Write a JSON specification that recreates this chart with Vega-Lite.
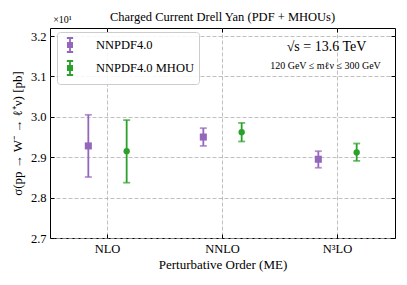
{
  "$schema": "https://vega.github.io/schema/vega-lite/v6.json",
  "autosize": "none",
  "width": 345,
  "height": 210,
  "padding": {"left": 50, "top": 28, "right": 12, "bottom": 47},
  "background": "white",
  "title": {"text": "Charged Current Drell Yan (PDF + MHOUs)", "font": "Liberation Serif", "fontSize": 12.5, "fontWeight": "normal", "color": "black", "offset": -9},
  "data": {"values": [
    {"order": "NLO", "series": "NNPDF4.0", "c": 2.928, "lo": 2.851, "hi": 3.005},
    {"order": "NLO", "series": "NNPDF4.0 MHOU", "c": 2.915, "lo": 2.837, "hi": 2.992},
    {"order": "NNLO", "series": "NNPDF4.0", "c": 2.950, "lo": 2.928, "hi": 2.972},
    {"order": "NNLO", "series": "NNPDF4.0 MHOU", "c": 2.962, "lo": 2.939, "hi": 2.985},
    {"order": "N³LO", "series": "NNPDF4.0", "c": 2.895, "lo": 2.874, "hi": 2.915},
    {"order": "N³LO", "series": "NNPDF4.0 MHOU", "c": 2.912, "lo": 2.891, "hi": 2.934}
  ]},
  "config": {
    "view": {"stroke": "black", "strokeWidth": 1},
    "font": "Liberation Serif",
    "axis": {"domainColor": "black", "tickColor": "black", "labelColor": "black", "titleColor": "black", "labelFont": "Liberation Serif", "titleFont": "Liberation Serif", "labelFontSize": 12.5, "titleFontSize": 13, "titleFontWeight": "normal", "gridColor": "#b0b0b0", "gridDash": [4, 2], "gridWidth": 0.8, "tickSize": -4, "tickWidth": 1}
  },
  "resolve": {"axis": {"x": "independent", "y": "independent"}},
  "encoding": {
    "x": {"field": "order", "type": "nominal", "sort": ["NLO", "NNLO", "N³LO"], "scale": {"type": "band", "paddingInner": 0, "paddingOuter": 0}},
    "xOffset": {"field": "series", "type": "nominal", "scale": {"type": "point", "padding": 2}},
    "color": {"field": "series", "type": "nominal", "scale": {"domain": ["NNPDF4.0", "NNPDF4.0 MHOU"], "range": ["#9467bd", "#2ca02c"]}, "legend": {
          "title": null, "orient": "none", "legendX": 7, "legendY": 4,
          "fillColor": "rgba(255,255,255,0.85)", "strokeColor": "#cccccc", "cornerRadius": 3, "padding": 5,
          "labelFont": "Liberation Serif", "labelFontSize": 12.5, "labelColor": "black", "labelOffset": 18,
          "symbolType": "M0,-1V1M-0.45,-1H0.45M-0.45,1H0.45M-0.3,-0.3H0.3V0.3H-0.3Z",
          "symbolSize": 196, "rowPadding": 1, "symbolStrokeWidth": 1.8, "symbolOpacity": 1
        }}
  },
  "layer": [
    {
      "mark": {"type": "rule", "strokeWidth": 1.8},
      "encoding": {
        "x": {"field": "order", "type": "nominal", "sort": ["NLO", "NNLO", "N³LO"], "axis": {"orient": "bottom", "title": "Perturbative Order (ME)", "labelAngle": 0, "bandPosition": 0.5, "grid": true, "labelPadding": 8, "titlePadding": 4, "domain": false}},
        "y": {"field": "lo", "type": "quantitative", "scale": {"domain": [2.7, 3.22], "nice": false, "zero": false}, "axis": {"orient": "left", "values": [2.7, 2.8, 2.9, 3.0, 3.1, 3.2], "format": ".1f", "title": "σ(pp → W⁻ → ℓ⁺ν) [pb]", "grid": true, "labelPadding": 8, "titlePadding": 6, "domain": false}},
        "y2": {"field": "hi"}
      }
    },
    {
      "mark": {"type": "tick", "thickness": 1.8, "size": 7},
      "encoding": {
        "x": {"field": "order", "type": "nominal", "sort": ["NLO", "NNLO", "N³LO"], "axis": {"orient": "top", "labels": false, "title": null, "bandPosition": 0.5, "grid": false, "domain": false}},
        "y": {"field": "lo", "type": "quantitative", "axis": {"orient": "right", "values": [2.7, 2.8, 2.9, 3.0, 3.1, 3.2], "labels": false, "title": null, "grid": false, "domain": false}}
      }
    },
    {
      "mark": {"type": "tick", "thickness": 1.8, "size": 7},
      "encoding": {
        "x": {"field": "order", "type": "nominal", "sort": ["NLO", "NNLO", "N³LO"], "axis": null},
        "y": {"field": "hi", "type": "quantitative", "axis": null}
      }
    },
    {
      "transform": [{"filter": {"field": "series", "equal": "NNPDF4.0"}}],
      "mark": {"type": "point", "filled": true, "opacity": 1, "shape": "square", "size": 50},
      "encoding": {
        "x": {"field": "order", "type": "nominal", "sort": ["NLO", "NNLO", "N³LO"], "axis": null},
        "y": {"field": "c", "type": "quantitative", "axis": null}
      }
    },
    {
      "transform": [{"filter": {"field": "series", "equal": "NNPDF4.0 MHOU"}}],
      "mark": {"type": "point", "filled": true, "opacity": 1, "shape": "circle", "size": 40},
      "encoding": {
        "x": {"field": "order", "type": "nominal", "sort": ["NLO", "NNLO", "N³LO"], "axis": null},
        "y": {"field": "c", "type": "quantitative", "axis": null}
      }
    },
    {
      "data": {"values": [{"t": "√s = 13.6 TeV"}]},
      "mark": {"type": "text", "font": "Liberation Serif", "fontSize": 14, "color": "black", "dx": -11, "baseline": "middle"},
      "encoding": {
        "x": {"datum": "N³LO", "type": "nominal", "axis": null},
        "y": {"datum": 3.174, "type": "quantitative", "axis": null},
        "text": {"field": "t"},
        "xOffset": null,
        "color": null
      }
    },
    {
      "data": {"values": [{"t": "120 GeV ≤ mℓν ≤ 300 GeV"}]},
      "mark": {"type": "text", "font": "Liberation Serif", "fontSize": 10, "color": "black", "dx": -12, "baseline": "middle"},
      "encoding": {
        "x": {"datum": "N³LO", "type": "nominal", "axis": null},
        "y": {"datum": 3.127, "type": "quantitative", "axis": null},
        "text": {"field": "t"},
        "xOffset": null,
        "color": null
      }
    },
    {
      "data": {"values": [{"t": "×10¹"}]},
      "mark": {"type": "text", "font": "Liberation Serif", "fontSize": 10, "color": "black", "dx": -45, "baseline": "middle"},
      "encoding": {
        "x": {"datum": "NLO", "type": "nominal", "axis": null},
        "y": {"datum": 3.241, "type": "quantitative", "axis": null},
        "text": {"field": "t"},
        "xOffset": null,
        "color": null
      }
    }
  ]
}
